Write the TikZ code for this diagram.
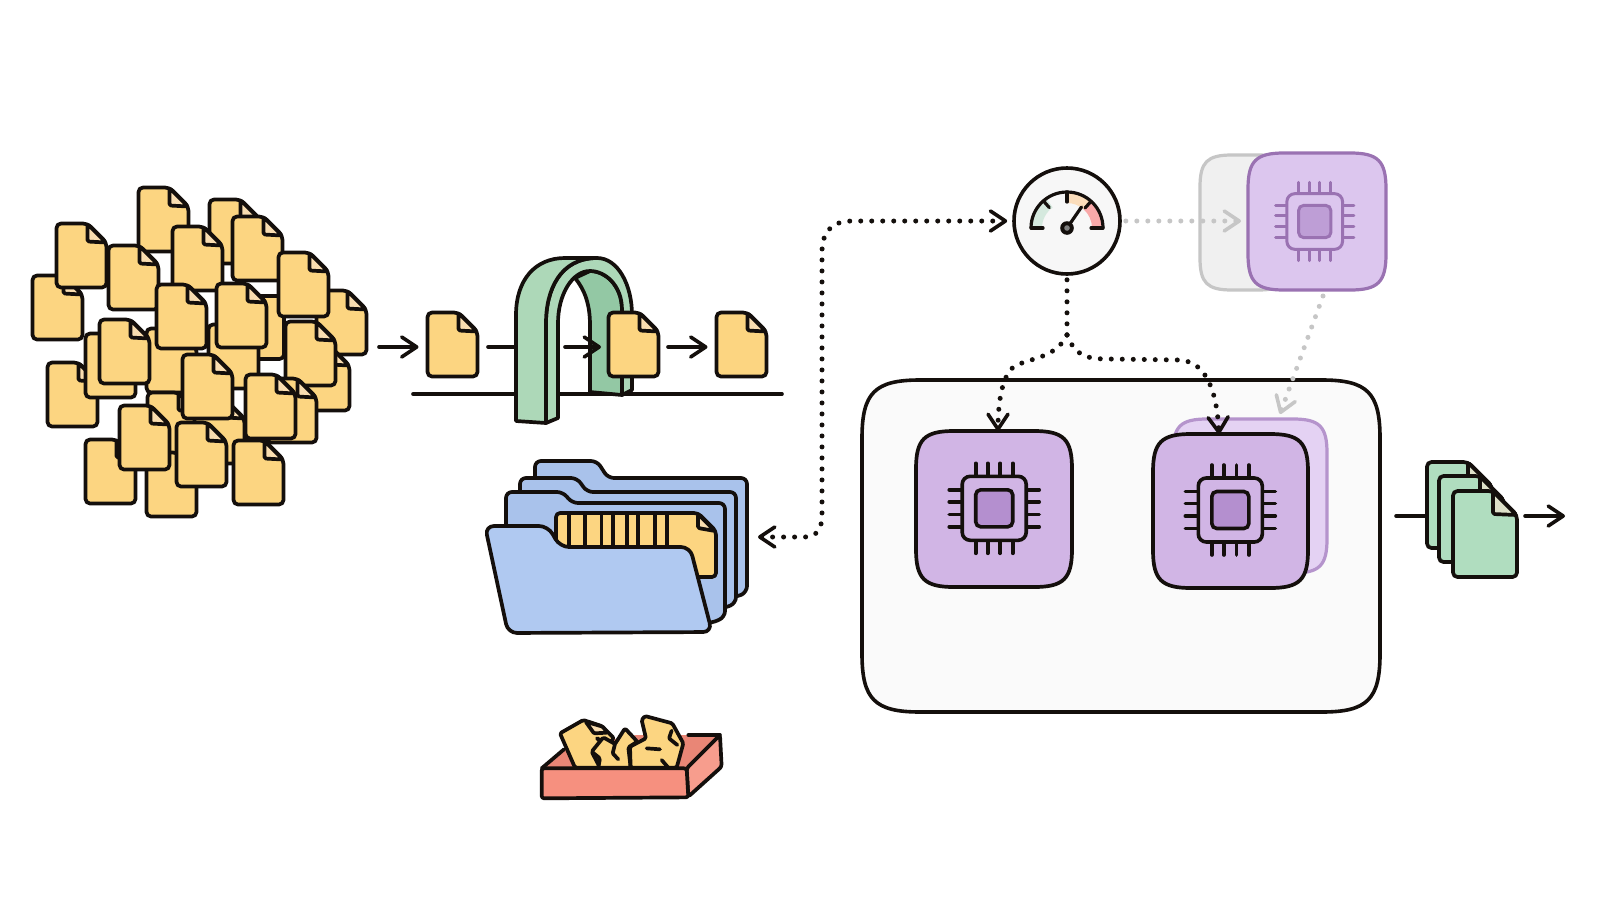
\documentclass[tikz,border=0pt]{standalone}
\usetikzlibrary{arrows.meta,fit,calc}

\definecolor{ink}{HTML}{140F0C}
\definecolor{paperY}{HTML}{FCD581}
\definecolor{foldY}{HTML}{F9DDB0}
\definecolor{archFace}{HTML}{ADD8B8}
\definecolor{archIn}{HTML}{93C8A4}
\definecolor{docG}{HTML}{B0DDBF}
\definecolor{foldG}{HTML}{DDE0C8}
\definecolor{folderF}{HTML}{B0C9F1}
\definecolor{folderB}{HTML}{A9C2EB}
\definecolor{chipF}{HTML}{D1B5E5}
\definecolor{chipC}{HTML}{B48FCF}
\definecolor{chipE}{HTML}{9A72B2}
\definecolor{ghostF}{HTML}{E4D2F3}
\definecolor{ghostE}{HTML}{B594CC}
\definecolor{topF}{HTML}{DCC6EE}
\definecolor{topC}{HTML}{BE9ED6}
\definecolor{grayline}{HTML}{C6C6C6}
\definecolor{trayIn}{HTML}{E98676}
\definecolor{trayF}{HTML}{F6907F}
\definecolor{trayS}{HTML}{F79D8D}
\definecolor{dialG}{HTML}{D5E9DE}
\definecolor{dialO}{HTML}{FBDDBB}
\definecolor{dialR}{HTML}{F9A9A9}

\tikzset{
  ink line/.style={draw=ink,line width=3.7pt,line join=round,line cap=round},
  yellow sheet/.style={ink line,fill=paperY},
  yellow fold/.style={ink line,fill=foldY},
  green sheet/.style={ink line,fill=docG},
  green fold/.style={ink line,fill=foldG},
  plain line/.style={draw=ink,line width=3.6pt,line cap=round},
  flow/.style={plain line,-{Straight Barb[length=15pt,width=20pt,line width=3.6pt,round]}},
  dot line/.style={draw=ink,line width=5pt,line cap=round,dash pattern=on 0pt off 11pt},
  dot flow/.style={dot line,-{Straight Barb[length=15pt,width=20pt,line width=3.6pt,round]}},
  dot both/.style={dot line,{Straight Barb[length=15pt,width=20pt,line width=3.6pt,round]}-{Straight Barb[length=15pt,width=20pt,line width=3.6pt,round]}},
  ghost flow/.style={draw=grayline,line width=5pt,line cap=round,dash pattern=on 0pt off 11pt,
    -{Straight Barb[length=15pt,width=20pt,line width=3.6pt,round,color=grayline]}},
  folder back/.style={ink line,fill=folderB,rounded corners=6pt},
  folder front/.style={ink line,fill=folderF,rounded corners=9pt},
  arch part/.style={ink line,fill=archFace},
  crumple/.style={ink line,fill=paperY,rounded corners=1.5pt},
  tray part/.style={ink line,rounded corners=2.5pt},
  anchor box/.style={inner sep=0pt,outer sep=0pt},
}

% \sheet{style}{fold style}{name}{x}{y}{w}{h}{fold}
\newcommand{\sheet}[8]{%
  \draw[#1,rounded corners=4.5pt] (#4,#5) -- (#4+#6-#8,#5) -- (#4+#6,#5+#8) -- (#4+#6,#5+#7) -- (#4,#5+#7) -- cycle;
  \draw[#2,rounded corners=1.5pt] (#4+#6-#8,#5+0.5) -- (#4+#6-#8,#5+#8-1) -- (#4+#6-0.5,#5+#8) -- cycle;
  \node[anchor box,fit={(#4,#5)(#4+#6,#5+#7)}] (#3) {};
}
% \ysheet{name}{x}{y}: the standard yellow file
\newcommand{\ysheet}[3]{\sheet{yellow sheet}{yellow fold}{#1}{#2-0.5}{#3-0.5}{50}{64}{19}}

% \softbox{style}{name}{x0}{y0}{x1}{y1}{r}: rounded square with soft corners
\newcommand{\softbox}[7]{%
  \draw[#1] (#3,#4+#7) .. controls (#3,#4+0.22*#7) and (#3+0.22*#7,#4) .. (#3+#7,#4)
    -- (#5-#7,#4) .. controls (#5-0.22*#7,#4) and (#5,#4+0.22*#7) .. (#5,#4+#7)
    -- (#5,#6-#7) .. controls (#5,#6-0.22*#7) and (#5-0.22*#7,#6) .. (#5-#7,#6)
    -- (#3+#7,#6) .. controls (#3+0.22*#7,#6) and (#3,#6-0.22*#7) .. (#3,#6-#7) -- cycle;
  \node[anchor box,fit={(#3,#4)(#5,#6)}] (#2) {};
}

% \chipicon{cx}{cy}{scale}{edge}{body}{core}{width}
\newcommand{\chipicon}[7]{%
  \begin{scope}[shift={(#1,#2)},x=#3pt,y=-#3pt]
    \foreach \p in {-18.5,-6.5,6,18.5}{
      \draw[#4,line width=#7,line cap=round] (\p,-45) -- (\p,-32);
      \draw[#4,line width=#7,line cap=round] (\p,32) -- (\p,45);
      \draw[#4,line width=#7,line cap=round] (-45,\p) -- (-32,\p);
      \draw[#4,line width=#7,line cap=round] (32,\p) -- (45,\p);
    }
    \draw[draw=#4,fill=#5,line width=#7,rounded corners=8pt] (-32,-32) rectangle (32,32);
    \draw[draw=#4,fill=#6,line width=#7,rounded corners=5pt] (-18.5,-18.5) rectangle (18.5,18.5);
  \end{scope}
}

\begin{document}
\begin{tikzpicture}[x=1pt,y=-1pt]
\path[use as bounding box,fill=white] (0,0) rectangle (1600,900);

% ---- pile of incoming files, back to front
\ysheet{p1}{33}{276}
\ysheet{p2}{57}{224}
\ysheet{p3}{139}{188}
\ysheet{p4}{210}{200}
\ysheet{p5}{233}{217}
\ysheet{p6}{109}{246}
\ysheet{p7}{173}{227}
\ysheet{p8}{317}{291}
\sheet{yellow sheet}{yellow fold}{p9}{235}{296}{49}{63}{3}
\ysheet{p10}{147}{329}
\ysheet{p11}{209}{325}
\ysheet{p12}{48}{363}
\ysheet{p13}{86}{334}
\ysheet{p14}{100}{320}
\ysheet{p15}{157}{285}
\ysheet{p16}{217}{284}
\ysheet{p17}{279}{253}
\ysheet{p18}{300}{347}
\ysheet{p19}{286}{322}
\ysheet{p20}{267}{379}
\ysheet{p21}{148}{393}
\ysheet{p22}{195}{400}
\ysheet{p23}{183}{355}
\ysheet{p24}{246}{375}
\ysheet{p25}{86}{440}
\ysheet{p26}{147}{453}
\ysheet{p27}{120}{406}
\ysheet{p28}{177}{423}
\ysheet{p29}{234}{441}

% ---- conveyor line and the arch it passes through
\coordinate (beltL) at (413,394);
\coordinate (beltR) at (782,394);
\draw[plain line] (beltL) -- (beltR);
\coordinate (rowIn) at (379,347);
\coordinate (rowMid) at (488,347);
\coordinate (archW) at (516,347);
\coordinate (rowNext) at (565,347);
\draw[plain line] (rowMid) -- (archW);

\draw[ink line,fill=archIn] (575,278) .. controls (585,290) and (590,305) .. (590,325)
   -- (590,392) -- (622,395) -- (622,310) .. controls (622,285) and (605,271) .. (590,271) -- cycle;
\draw[arch part] (546,423) -- (546,323) .. controls (546,290) and (560,258) .. (597,258)
   .. controls (618,258) and (632,285) .. (632,315) -- (632,390) -- (622,395) -- (622,310)
   .. controls (622,285) and (605,271) .. (590,271) .. controls (572,271) and (558,295) .. (558,323)
   -- (558,418) -- cycle;
\draw[arch part] (516,421) -- (516,315) .. controls (516,280) and (535,258) .. (565,258)
   -- (597,258) .. controls (560,258) and (546,290) .. (546,323) -- (546,423) -- cycle;

\ysheet{row1}{428}{313}
\draw[flow,shorten >=9pt] (rowIn) -- (rowIn -| row1.west);
\draw[flow] (rowNext) -- ++(36,0) coordinate (rowTip);
\ysheet{row2}{609}{313}
\ysheet{row3}{717}{313}
\coordinate (rowOut) at (668,347);
\draw[flow,shorten >=9pt] (rowOut) -- (rowOut -| row3.west);

% ---- stack of folders holding the sorted files
\draw[folder back] (535,590) -- (535,461) -- (597,461) -- (608,478) -- (747,478) -- (747,592) -- (737,597) -- cycle;
\draw[folder back] (520,610) -- (520,478) -- (577,478) -- (587,492) -- (736,492) -- (736,603) -- (725,608) -- cycle;
\draw[folder back] (506,622) -- (506,492) -- (563,492) -- (572,503) -- (725,503) -- (725,617) -- (712,623) -- cycle;
\draw[ink line,fill=paperY,rounded corners=4pt] (556,513) -- (698,513) -- (716,531) -- (716,577) -- (680,577) -- (680,560) -- (556,560) -- cycle;
\draw[yellow fold,rounded corners=1.5pt] (698,514) -- (698,528) -- (715,531) -- cycle;
\foreach \sx in {569,585,601.5,613,627,638,655,667}{
  \draw[draw=ink,line width=3.8pt] (\sx,514) -- (\sx,547);
}
\draw[folder front] (485,526) -- (548,526) -- (560,547) -- (690,547) -- (712,632) -- (508,633) -- cycle;
\node[anchor box,fit={(485,461)(747,633)}] (folders) {};

% ---- tray of discarded, crumpled files
\begin{scope}[shift={(520,700)},x=0.3333pt,y=-0.3333pt]
  \fill[trayIn] (65,205) -- (135,145) -- (350,105) -- (600,105) -- (500,205) -- cycle;
  \draw[ink line] (65,205) -- (132,148);
  \draw[ink line] (505,105) -- (600,105);
  \draw[crumple] (120,100) -- (190,60) -- (245,78) -- (282,115) -- (260,135) -- (228,112) -- (248,132) -- (215,155) -- (240,203) -- (165,203) -- cycle;
  \draw[yellow fold,rounded corners=1pt] (197,65) -- (248,80) -- (262,98) -- (222,100) -- cycle;
  \draw[crumple] (215,155) -- (250,112) -- (285,132) -- (315,85) -- (352,125) -- (325,142) -- (332,203) -- (235,203) -- (240,175) -- cycle;
  \draw[ink line,rounded corners=1pt] (285,132) -- (278,160) -- (295,178);
  \draw[crumple] (330,140) -- (378,115) -- (365,60) -- (375,48) -- (457,70) -- (490,130) -- (470,203) -- (332,203) -- cycle;
  \draw[ink line,rounded corners=1pt] (380,145) -- (420,148);
  \draw[ink line,rounded corners=1pt] (455,92) -- (447,115) -- (472,135);
  \draw[ink line,rounded corners=1pt] (425,180) -- (445,203);
  \draw[tray part,fill=trayS] (500,205) -- (600,105) -- (605,200) -- (505,290) -- cycle;
  \draw[tray part,fill=trayF] (65,205) -- (500,205) -- (505,292) -- (65,295) -- cycle;
\end{scope}
\node[anchor box,fit={(541,717)(722,798)}] (tray) {};

% ---- idle worker fading in, with its chip
\softbox{draw=grayline,fill=black!6,line width=3.2pt}{ghost}{1200}{155}{1290}{290}{32}
\node[draw=ink,fill=white!97!black,line width=3.6pt,circle,minimum size=106pt,inner sep=0pt] (gauge) at (1067,221) {};
\coordinate (gaugeTip) at (1241,221);
\draw[ghost flow,shorten <=4pt] (gauge.east) -- (gaugeTip);
\softbox{draw=chipE,fill=topF,line width=3.2pt}{spare}{1248}{153}{1386}{290}{36}
\chipicon{1314.7}{221.5}{0.87}{chipE}{topF}{topC}{3pt}

% ---- load gauge
\begin{scope}[shift={(1067,228)},x=1pt,y=1pt]
  \fill[dialG] (180:36) arc (180:125:36) -- (125:25) arc (125:180:25) -- cycle;
  \fill[dialO] (90:36) arc (90:48:36) -- (48:25) arc (48:90:25) -- cycle;
  \fill[dialR] (48:36) arc (48:0:36) -- (0:25) arc (0:48:25) -- cycle;
  \draw[plain line,line width=3.2pt] (-36,0) arc (180:0:36);
  \draw[plain line,line width=3.2pt] (-36,0) -- (-24,0) (24,0) -- (36,0);
  \draw[plain line,line width=3.2pt] (90:36) -- (90:26);
  \draw[plain line,line width=3.2pt] (131:36) -- (131:27);
  \draw[plain line,line width=3.2pt] (48:36) -- (48:27);
  \draw[plain line,line width=3.2pt] (0,0) -- (14.5,21);
  \fill[ink] (0,0) circle (6.8);
  \fill[black!50] (0,0) circle (2.8);
\end{scope}

% ---- worker pool
\softbox{draw=ink,fill=black!2,line width=3.6pt}{pool}{862}{380}{1380}{712}{58}
\softbox{draw=ghostE,fill=ghostF,line width=3.2pt}{chipBack}{1173}{419}{1327}{573}{34}
\softbox{draw=ink,fill=chipF,line width=3.7pt}{chipA}{916}{431}{1072}{587}{38}
\chipicon{994.2}{508.3}{1}{ink}{chipF}{chipC}{3.6pt}
\softbox{draw=ink,fill=chipF,line width=3.7pt}{chipB}{1153}{434}{1308}{588}{38}
\chipicon{1230.3}{510}{1}{ink}{chipF}{chipC}{3.6pt}

% ---- control signals
\coordinate (folderTip) at (758,537);
\draw[dot both,shorten >=5pt] (folderTip) -- (805,537) .. controls (817,537) and (822,528) .. (822,515)
   -- (822,252) .. controls (822,232) and (832,221) .. (852,221) -- (gauge.west);
\coordinate (fork) at (1067,335);
\draw[dot line,shorten <=4pt] (gauge.south) -- (fork);
\draw[dot flow] (fork) .. controls (1056,358) and (1030,358) .. (1015,366)
   .. controls (1003,373) and (998,400) .. (chipA.north -| 998,431);
\draw[dot flow] (fork) .. controls (1076,358) and (1090,359) .. (1110,359) -- (1180,360)
   .. controls (1208,362) and (1217,395) .. (chipB.north -| 1219,434);
\coordinate (spareOut) at (1323,296);
\coordinate (backTip) at (1280,414);
\draw[ghost flow] (spareOut) -- (backTip);

% ---- finished output files
\coordinate (outIn) at (1396,516);
\coordinate (outFrom) at (1525,516);
\coordinate (outTip) at (1565,516);
\draw[plain line] (outIn) -- (1430,516);
\sheet{green sheet}{green fold}{out1}{1427}{462}{65}{86}{24}
\sheet{green sheet}{green fold}{out2}{1439}{476}{65}{86}{24}
\sheet{green sheet}{green fold}{out3}{1453}{491}{64}{86}{24}
\draw[flow] (outFrom) -- (outTip);
\end{tikzpicture}
\end{document}
